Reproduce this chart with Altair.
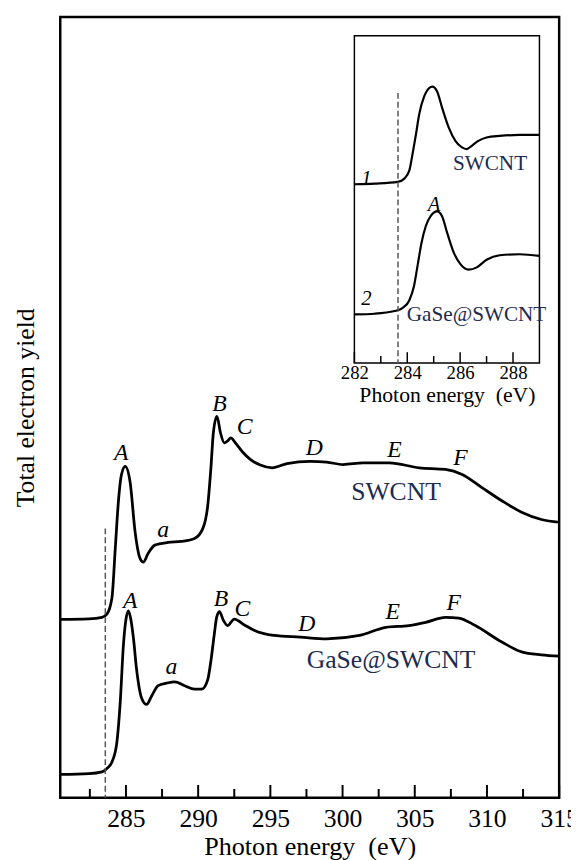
import altair as alt
import pandas as pd

SERIF = "Liberation Serif"
NAVY = "#1d2b50"

# ---------------- main spectra (C K-edge NEXAFS, total electron yield) ----------------
energy_swcnt = [280.45, 282.43, 283.34, 283.68, 284.03, 284.26, 284.49, 284.69, 284.95, 285.29,
                285.63, 285.97, 286.2, 286.54, 287.0, 287.92, 288.83, 289.75, 290.32, 290.66,
                290.89, 291.05, 291.3, 291.55, 291.81, 292.04, 292.26, 292.58, 293.06, 293.63,
                294.3, 295.12, 296.15, 297.75, 298.9, 300.04, 301.42, 303.24, 305.3, 307.13,
                308.28, 309.65, 311.03, 312.4, 313.77, 315.0]
tey_swcnt = [2.285, 2.292, 2.311, 2.352, 2.563, 3.194, 3.826, 4.141, 4.246, 4.040,
             3.409, 3.068, 3.018, 3.131, 3.236, 3.270, 3.283, 3.321, 3.447, 3.737,
             4.242, 4.672, 4.886, 4.672, 4.545, 4.571, 4.609, 4.545, 4.432, 4.331,
             4.261, 4.226, 4.280, 4.309, 4.299, 4.268, 4.289, 4.289, 4.226, 4.205,
             4.141, 3.973, 3.804, 3.658, 3.564, 3.529]

energy_gase = [280.45, 282.43, 283.34, 283.68, 284.03, 284.37, 284.6, 284.83, 285.0, 285.17,
               285.34, 285.51, 285.74, 286.08, 286.43, 286.77, 287.23, 287.8, 288.38, 289.06,
               289.75, 290.25, 290.66, 290.89, 291.12, 291.28, 291.47, 291.76, 292.04, 292.5,
               293.18, 293.87, 295.24, 297.07, 298.9, 301.18, 303.0, 304.6, 305.76, 307.13,
               308.05, 309.19, 311.03, 312.4, 313.77, 315.0]
tey_gase = [0.299, 0.309, 0.332, 0.375, 0.458, 0.711, 1.216, 1.973, 2.285, 2.395,
            2.285, 2.058, 1.638, 1.279, 1.196, 1.301, 1.436, 1.468, 1.486, 1.436,
            1.393, 1.393, 1.511, 1.764, 2.100, 2.311, 2.383, 2.269, 2.206, 2.289,
            2.216, 2.146, 2.080, 2.058, 2.037, 2.080, 2.184, 2.206, 2.247, 2.311,
            2.302, 2.206, 1.995, 1.869, 1.831, 1.814]

major_ticks = [285, 290, 295, 300, 305, 310, 315]
minor_ticks = [282.5, 287.5, 292.5, 297.5, 302.5, 307.5, 312.5]

edge_energy = [283.57]
edge_top = [3.45]

# peak letters on the main spectra
peak_text = ["A", "a", "B", "C", "D", "E", "F", "A", "a", "B", "C", "D", "E", "F"]
peak_energy = [284.67, 287.57, 291.47, 293.22, 298.05, 303.59, 308.16,
               285.29, 288.14, 291.58, 293.06, 297.53, 303.48, 307.7]
peak_tey = [4.415, 3.426, 5.047, 4.751, 4.479, 4.457, 4.352,
            2.521, 1.679, 2.542, 2.412, 2.226, 2.374, 2.5]

series_text = ["SWCNT", "GaSe@SWCNT"]
series_energy = [303.7, 303.36]
series_tey = [3.91, 1.764]

# ---------------- inset (pre-edge region) ----------------
inset_energy_1 = [282.0, 282.77, 283.64, 283.89, 284.08, 284.2, 284.33, 284.45, 284.64, 284.82,
                  284.95, 285.13, 285.32, 285.57, 285.82, 286.07, 286.25, 286.44, 286.69, 287.0,
                  287.5, 288.25, 289.0]
inset_tey_1 = [5.461, 5.482, 5.533, 5.633, 5.883, 6.386, 6.988, 7.590, 8.142, 8.395,
               8.443, 8.292, 7.792, 7.190, 6.786, 6.587, 6.536, 6.636, 6.786, 6.889,
               6.937, 6.967, 6.967]
inset_energy_2 = [282.0, 282.77, 283.52, 283.83, 284.08, 284.26, 284.39, 284.54, 284.7, 284.89,
                  285.13, 285.32, 285.51, 285.76, 286.01, 286.32, 286.63, 287.0, 287.5, 288.25,
                  289.0]
inset_tey_2 = [1.485, 1.506, 1.587, 1.687, 1.919, 2.370, 2.973, 3.675, 4.178, 4.497,
               4.630, 4.479, 3.976, 3.373, 3.021, 2.852, 2.922, 3.154, 3.292, 3.322,
               3.274]
inset_major = [282, 284, 286, 288]
inset_minor = [283, 285, 287]
inset_edge = [283.65]
inset_edge_top = [8.25]

inset_num_text = ["1", "2", "A"]
inset_num_energy = [282.46, 282.46, 285.01]
inset_num_tey = [5.633, 1.967, 4.828]

inset_series_text = ["SWCNT", "GaSe@SWCNT"]
inset_series_energy = [287.13, 286.62]
inset_series_tey = [6.084, 1.476]

# ---------------- data frames ----------------
df_main = pd.concat([
    pd.DataFrame({"energy": energy_swcnt, "tey": tey_swcnt, "series": "SWCNT"}),
    pd.DataFrame({"energy": energy_gase, "tey": tey_gase, "series": "GaSe@SWCNT"}),
])
df_inset = pd.concat([
    pd.DataFrame({"energy": inset_energy_1, "tey": inset_tey_1, "series": "1"}),
    pd.DataFrame({"energy": inset_energy_2, "tey": inset_tey_2, "series": "2"}),
])

main_x = alt.Scale(domain=[280.45, 315], nice=False, zero=False)
main_y = alt.Scale(domain=[0, 10], nice=False, zero=False)

curves = alt.Chart(df_main).mark_line(color="black", strokeWidth=2.8, interpolate="monotone").encode(
    x=alt.X("energy:Q", scale=main_x,
            axis=alt.Axis(values=major_ticks, ticks=False, domain=False, grid=False, format="d",
                          labelFont=SERIF, labelFontSize=26, labelColor="black", labelPadding=8,
                          labelFlush=False, labelOverlap=False,
                          title="Photon energy\u00a0 (eV)", titleFont=SERIF, titleFontSize=26.5,
                          titleFontWeight="normal", titleColor="black", titlePadding=2)),
    y=alt.Y("tey:Q", scale=main_y,
            axis=alt.Axis(ticks=False, labels=False, domain=False, grid=False,
                          title="Total electron yield", titleFont=SERIF, titleFontSize=26,
                          titleFontWeight="normal", titleColor="black", titlePadding=22)),
    detail="series:N",
)

major_rules = alt.Chart(pd.DataFrame({"energy": major_ticks})).mark_rule(color="black", strokeWidth=2).encode(
    x=alt.X("energy:Q", scale=main_x), y=alt.value(792), y2=alt.value(779))
minor_rules = alt.Chart(pd.DataFrame({"energy": minor_ticks})).mark_rule(color="black", strokeWidth=2).encode(
    x=alt.X("energy:Q", scale=main_x), y=alt.value(792), y2=alt.value(783))

edge_rule = alt.Chart(pd.DataFrame({"energy": edge_energy, "tey": edge_top, "tey0": [0]})).mark_rule(
    color="#555555", strokeWidth=1.5, strokeDash=[6, 3]).encode(
    x=alt.X("energy:Q", scale=main_x), y=alt.Y("tey:Q", scale=main_y), y2="tey0:Q")

peaks = alt.Chart(pd.DataFrame({"energy": peak_energy, "tey": peak_tey, "label": peak_text})).mark_text(
    font=SERIF, fontSize=24, fontStyle="italic", color="black", align="center", baseline="middle").encode(
    x=alt.X("energy:Q", scale=main_x), y=alt.Y("tey:Q", scale=main_y), text="label:N")

series_labels = alt.Chart(pd.DataFrame({"energy": series_energy, "tey": series_tey, "label": series_text})).mark_text(
    font=SERIF, fontSize=26, color=NAVY, align="center", baseline="middle").encode(
    x=alt.X("energy:Q", scale=main_x), y=alt.Y("tey:Q", scale=main_y), text="label:N")

main_layer = alt.layer(curves, major_rules, minor_rules, edge_rule, peaks, series_labels)

# ---------------- inset ----------------
inset_x = alt.Scale(domain=[282, 289], range=[298.3, 486], nice=False, zero=False)
inset_y = alt.Scale(domain=[0, 10], range=[351, 19], nice=False, zero=False)

inset_curves = alt.Chart(df_inset).mark_line(color="black", strokeWidth=2.2, interpolate="monotone").encode(
    x=alt.X("energy:Q", scale=inset_x,
            axis=alt.Axis(orient="bottom", offset=-441, values=inset_major, ticks=False, domain=False,
                          grid=False, format="d", labelFont=SERIF, labelFontSize=19, labelColor="black",
                          labelPadding=1, labelFlush=False, labelOverlap=False,
                          title="Photon energy\u00a0 (eV)", titleFont=SERIF, titleFontSize=22,
                          titleFontWeight="normal", titleColor="black", titlePadding=2)),
    y=alt.Y("tey:Q", scale=inset_y, axis=None),
    detail="series:N",
)

inset_frame = alt.Chart(pd.DataFrame({"x0": [282], "x1": [289], "y0": [0], "y1": [10]})).mark_rect(
    fillOpacity=0, stroke="black", strokeWidth=1.5).encode(
    x=alt.X("x0:Q", scale=inset_x), x2="x1:Q", y=alt.Y("y0:Q", scale=inset_y), y2="y1:Q")

inset_major_rules = alt.Chart(pd.DataFrame({"energy": inset_major})).mark_rule(color="black", strokeWidth=1.5).encode(
    x=alt.X("energy:Q", scale=inset_x), y=alt.value(351), y2=alt.value(340))
inset_minor_rules = alt.Chart(pd.DataFrame({"energy": inset_minor})).mark_rule(color="black", strokeWidth=1.5).encode(
    x=alt.X("energy:Q", scale=inset_x), y=alt.value(351), y2=alt.value(344))

inset_edge_rule = alt.Chart(pd.DataFrame({"energy": inset_edge, "tey": inset_edge_top, "tey0": [0]})).mark_rule(
    color="#555555", strokeWidth=1.5, strokeDash=[6, 3]).encode(
    x=alt.X("energy:Q", scale=inset_x), y=alt.Y("tey:Q", scale=inset_y), y2="tey0:Q")

inset_nums = alt.Chart(pd.DataFrame({"energy": inset_num_energy, "tey": inset_num_tey, "label": inset_num_text})).mark_text(
    font=SERIF, fontSize=21, fontStyle="italic", color="black", align="center", baseline="middle").encode(
    x=alt.X("energy:Q", scale=inset_x), y=alt.Y("tey:Q", scale=inset_y), text="label:N")

inset_series = alt.Chart(pd.DataFrame({"energy": inset_series_energy, "tey": inset_series_tey, "label": inset_series_text})).mark_text(
    font=SERIF, fontSize=21.5, color=NAVY, align="center", baseline="middle").encode(
    x=alt.X("energy:Q", scale=inset_x), y=alt.Y("tey:Q", scale=inset_y), text="label:N")

inset_layer = alt.layer(inset_curves, inset_frame, inset_major_rules, inset_minor_rules,
                        inset_edge_rule, inset_nums, inset_series)

chart = alt.layer(main_layer, inset_layer).resolve_scale(
    x="independent", y="independent").resolve_axis(x="independent", y="independent").properties(
    width=506, height=792,
    padding={"left": 53, "top": 3, "right": 12, "bottom": 57},
    autosize=alt.AutoSizeParams(type="none"),
    background="white",
).configure_view(stroke="black", strokeWidth=2.5)

chart.save("out.html", embed_options={"renderer": "svg", "actions": False})
